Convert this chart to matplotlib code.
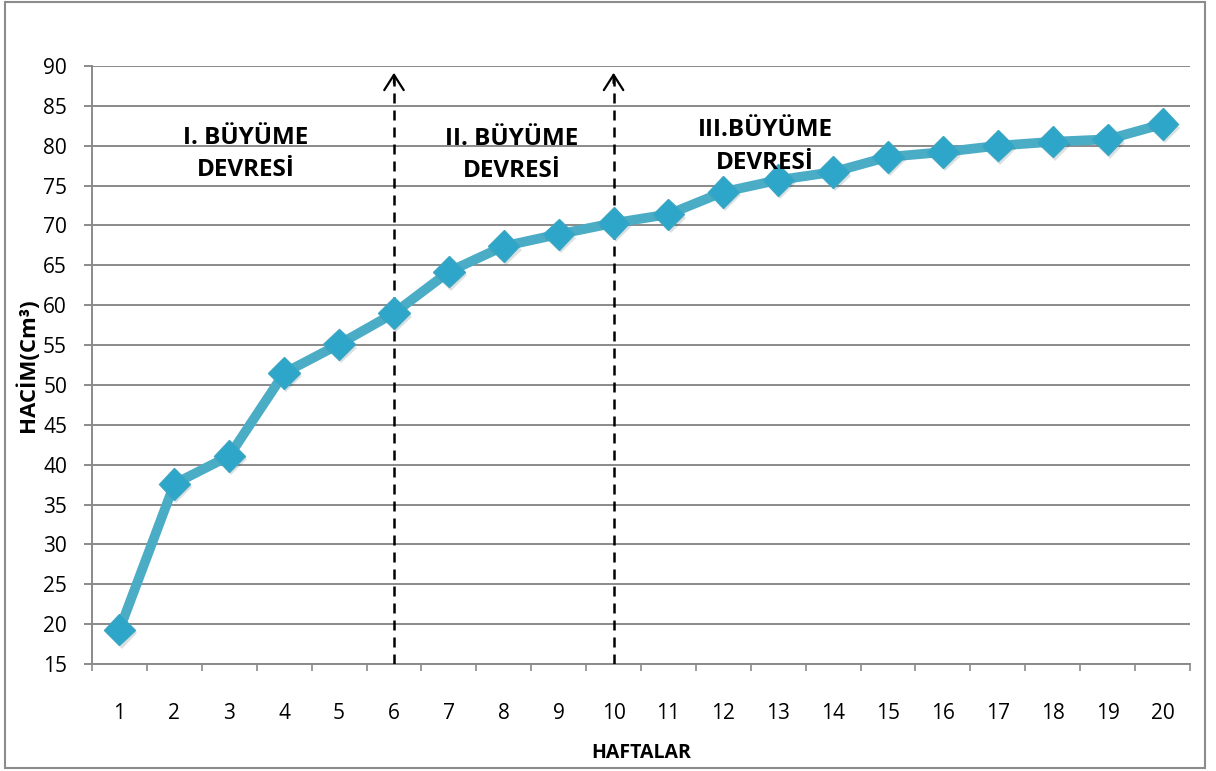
import matplotlib.pyplot as plt
import matplotlib.patheffects as pe
from matplotlib.patches import Rectangle
from matplotlib.ticker import MultipleLocator

plt.rcParams['font.family'] = ['Open Sans', 'DejaVu Sans']

haftalar = list(range(1, 21))
hacim = [19.3, 37.6, 41.1, 51.5, 55.1, 59.0, 64.2, 67.4, 68.9, 70.3,
         71.4, 74.2, 75.7, 76.7, 78.6, 79.2, 80.0, 80.5, 80.8, 82.7]

devre_sinirlari = [6, 10]
devre_etiketleri = ['I. BÜYÜME\nDEVRESİ', 'II. BÜYÜME\nDEVRESİ', 'III.BÜYÜME\nDEVRESİ']
etiket_x = [3.3, 8.15, 12.76]
etiket_y = [79.0, 78.8, 79.9]

fig = plt.figure(figsize=(12.16, 7.71), dpi=100)
ax = fig.add_axes([0.0757, 0.1388, 0.9029, 0.7756])

# outer frame around the whole chart
fig.patches.append(Rectangle((0.004, 0.004), 0.987, 0.994, transform=fig.transFigure,
                             fill=False, edgecolor='#8c8c8c', linewidth=1.5))

ax.set_xlim(0.5, 20.5)
ax.set_ylim(15, 90)
ax.yaxis.set_major_locator(MultipleLocator(5))
ax.grid(axis='y', color='#8a8a8a', linewidth=1.4)
ax.set_axisbelow(True)

for s in ['top', 'right']:
    ax.spines[s].set_visible(False)
for s in ['left', 'bottom']:
    ax.spines[s].set_color('#8a8a8a')
    ax.spines[s].set_linewidth(1.4)

ax.set_xticks(haftalar)
ax.set_xticks([h + 0.5 for h in range(0, 21)], minor=True)
ax.tick_params(axis='x', which='major', length=0, pad=28, labelsize=15)
ax.tick_params(axis='x', which='minor', length=5, width=1.2, color='#8a8a8a')
ax.tick_params(axis='y', length=6, width=1.4, color='#8a8a8a', pad=12, labelsize=15)

# period boundaries: dashed line with an open arrow head on top
for x in devre_sinirlari:
    ax.plot([x, x], [15, 88.8], color='black', linestyle=(0, (4, 2.8)), linewidth=1.8, zorder=4)
    ax.annotate('', xy=(x, 89.5), xytext=(x, 87.5),
                arrowprops=dict(arrowstyle='->,head_width=0.35,head_length=0.55',
                                mutation_scale=20, color='black', lw=1.6), zorder=4)

ax.plot(haftalar, hacim, color='#4bacc6', linewidth=7, solid_joinstyle='round', zorder=5)
ax.plot(haftalar, hacim, linestyle='none', marker='D', markersize=16,
        markerfacecolor='#2ea6c9', markeredgecolor='#3aa6c4', markeredgewidth=1,
        zorder=6, path_effects=[pe.SimplePatchShadow(offset=(1.5, -2.5), alpha=0.15), pe.Normal()])

for x, y, txt in zip(etiket_x, etiket_y, devre_etiketleri):
    ax.text(x, y, txt, ha='center', va='center', fontsize=17.5, fontweight='bold',
            linespacing=1.45, zorder=7)

ax.set_xlabel('HAFTALAR', fontsize=14, fontweight='bold', labelpad=14)
ax.set_ylabel('HACİM(Cm³)', fontsize=16, fontweight='bold', labelpad=3)

fig.savefig('out.png', dpi=100)
